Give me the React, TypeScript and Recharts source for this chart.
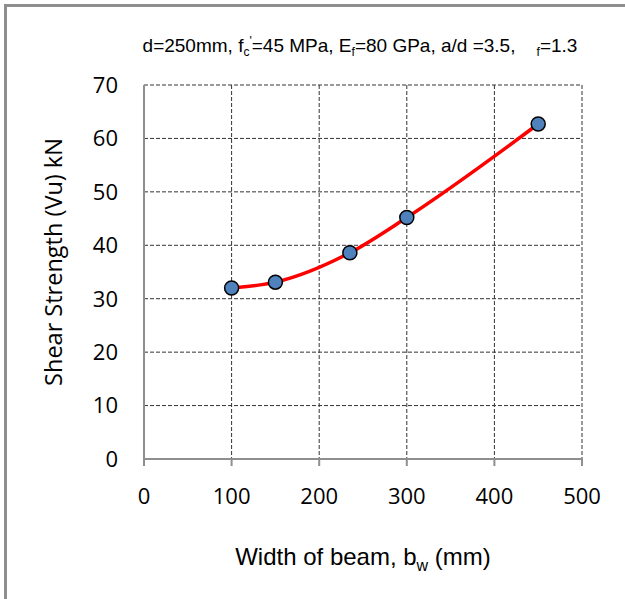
import { LineChart, Line, XAxis, YAxis, CartesianGrid } from 'recharts';

// beam width (mm) and shear strength (kN)
const widths = [100, 150, 235, 300, 450];
const shear = [32, 33.1, 38.6, 45.2, 62.7];
const xTicks = [0, 100, 200, 300, 400, 500];
const yTicks = [0, 10, 20, 30, 40, 50, 60, 70];

const data = widths.map((w, i) => ({ bw: w, vu: shear[i] }));

const tickFont = { fontFamily: 'Open Sans', fontSize: 22, fill: '#000' };

export default function App() {
  return (
    <div style={{ position: 'absolute', left: 0, top: 0, width: 625, height: 599, background: '#fff' }}>
      {/* grey frame, only top and left visible */}
      <div style={{ position: 'absolute', left: 4, top: 4, right: 0, bottom: 0, borderTop: '3px solid #8e8e8e', borderLeft: '3px solid #8e8e8e' }} />
      <LineChart
        width={625}
        height={599}
        data={data}
        margin={{ top: 85, right: 43, bottom: 110, left: 84 }}
        style={{ position: 'absolute', left: 0, top: 0 }}
      >
        <CartesianGrid stroke="#333" strokeDasharray="4 2" strokeWidth={1} />
        <XAxis
          dataKey="bw"
          type="number"
          domain={[0, 500]}
          ticks={xTicks}
          height={30}
          stroke="#8e8e8e"
          strokeWidth={2}
          tickSize={7}
          tickMargin={22}
          tick={tickFont}
        />
        <YAxis
          type="number"
          domain={[0, 70]}
          ticks={yTicks}
          width={60}
          stroke="#8e8e8e"
          strokeWidth={2}
          tickLine={false}
          tickMargin={20}
          tick={tickFont}
        />
        <Line
          dataKey="vu"
          type="monotone"
          stroke="#ff0000"
          strokeWidth={3.5}
          dot={{ r: 7, fill: '#4f81bd', stroke: '#000', strokeWidth: 1.5 }}
          isAnimationActive={false}
        />
        <text x={360} y={52} textAnchor="middle" xmlSpace="preserve" style={{ fontFamily: 'Liberation Sans', fontSize: 19, whiteSpace: 'pre' }}>
          d=250mm, f<tspan fontSize={12} dy={4}>c</tspan><tspan fontSize={12} dy={-11}>'</tspan>
          <tspan dy={7}>=45 MPa, E</tspan><tspan fontSize={12} dy={4}>f</tspan>
          <tspan dy={-4}>=80 GPa, a/d =3.5,    </tspan><tspan fontSize={12} dy={4}>f</tspan>
          <tspan dy={-4}>=1.3</tspan>
        </text>
        <text x={363} y={565} textAnchor="middle" style={{ fontFamily: 'Liberation Sans', fontSize: 24 }}>
          Width of beam, b<tspan fontSize={16} dy={6}>w</tspan><tspan dy={-6}> (mm)</tspan>
        </text>
        <text
          x={0}
          y={0}
          transform="translate(62 262) rotate(-90)"
          textAnchor="middle"
          style={{ fontFamily: 'Open Sans', fontSize: 23.5 }}
        >
          Shear Strength (Vu) kN
        </text>
      </LineChart>
    </div>
  );
}
